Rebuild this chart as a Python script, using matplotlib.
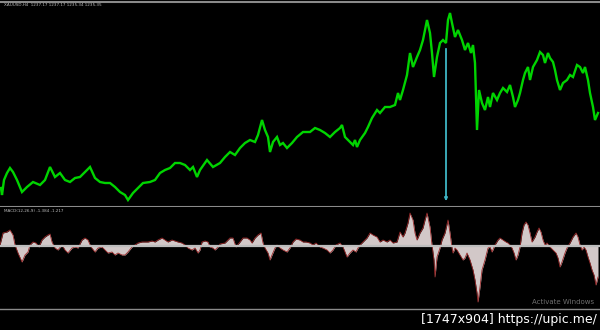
import matplotlib
matplotlib.use("Agg")
import matplotlib.pyplot as plt
import numpy as np

# price series (bar position, close)
price_bars = [1, 2, 4, 7, 10, 13, 17, 22, 27, 33, 40, 45, 50, 55, 60, 65, 70, 75, 80, 85,
              90, 95, 100, 105, 110, 115, 120, 125, 128, 133, 138, 143, 150, 155, 160, 165, 170, 175, 180, 185,
              190, 193, 197, 200, 207, 213, 220, 225, 230, 235, 240, 245, 250, 255, 258, 262, 265, 268, 270, 273,
              277, 280, 283, 287, 292, 297, 303, 310, 315, 320, 325, 330, 335, 340, 342, 345, 350, 353, 355, 357,
              360, 365, 368, 372, 377, 380, 385, 390, 395, 398, 400, 403, 407, 410, 413, 417, 420, 423, 427, 430,
              432, 434, 437, 440, 443, 446, 448, 450, 452, 455, 458, 462, 465, 468, 471, 473, 475, 476, 477, 479,
              482, 485, 488, 490, 493, 497, 500, 503, 507, 510, 513, 515, 518, 520, 523, 525, 528, 530, 533, 537,
              540, 543, 545, 548, 550, 553, 555, 557, 560, 563, 567, 570, 573, 577, 580, 583, 585, 588, 590, 593,
              595, 598]
price = [19, 12, 27, 34, 39, 35, 27, 15, 20, 25, 22, 27, 40, 30, 34, 27, 25, 29, 30, 35,
         40, 29, 25, 24, 24, 20, 15, 12, 7, 14, 19, 24, 25, 27, 34, 37, 39, 44, 44, 42,
         37, 40, 30, 37, 47, 40, 44, 50, 55, 52, 59, 64, 67, 65, 72, 87, 77, 70, 55, 65,
         70, 62, 64, 59, 64, 70, 75, 75, 79, 77, 74, 70, 75, 79, 82, 70, 65, 62, 67, 60,
         67, 74, 80, 89, 97, 94, 100, 100, 102, 114, 107, 117, 132, 154, 140, 150, 157, 167, 187, 174,
         154, 130, 150, 164, 167, 164, 187, 194, 184, 170, 177, 167, 157, 164, 154, 162, 144, 110, 77, 117,
         104, 97, 110, 100, 114, 107, 114, 119, 115, 122, 110, 100, 107, 114, 127, 134, 140, 127, 140, 147,
         155, 152, 144, 154, 149, 145, 137, 127, 117, 124, 127, 132, 130, 142, 140, 134, 140, 127, 114, 100,
         87, 94]

# oscillator histogram (bar position, value)
osc_bars = [0, 3, 7, 10, 13, 15, 18, 22, 25, 28, 30, 33, 36, 39, 42, 45, 48, 50, 52, 55,
            58, 62, 65, 68, 72, 75, 78, 82, 85, 88, 91, 95, 98, 102, 105, 108, 112, 115, 118, 122,
            125, 128, 132, 135, 138, 142, 145, 148, 152, 155, 158, 162, 165, 168, 172, 175, 178, 182, 185, 188,
            192, 195, 198, 200, 202, 205, 208, 210, 213, 215, 218, 220, 225, 228, 230, 233, 236, 240, 243, 247,
            250, 252, 255, 258, 261, 263, 265, 268, 270, 272, 275, 277, 280, 283, 287, 290, 293, 296, 300, 303,
            306, 310, 313, 316, 320, 323, 327, 330, 333, 336, 340, 343, 345, 347, 350, 353, 356, 358, 360, 363,
            367, 370, 373, 377, 380, 383, 387, 390, 393, 397, 400, 403, 405, 408, 410, 413, 415, 417, 420, 423,
            425, 427, 430, 432, 434, 435, 437, 440, 442, 445, 448, 450, 452, 453, 455, 457, 460, 463, 465, 467,
            470, 473, 475, 477, 478, 480, 482, 485, 488, 490, 492, 495, 498, 500, 503, 506, 508, 510, 512, 514,
            516, 518, 520, 522, 524, 526, 528, 530, 532, 535, 537, 539, 541, 543, 545, 547, 550, 553, 556, 558,
            560, 562, 565, 567, 570, 573, 576, 578, 580, 582, 584, 586, 588, 590, 592, 594, 596, 598]
osc = [1, 13, 14, 16, 11, 1, -7, -16, -9, -6, 1, 4, 3, -1, 6, 9, 11, 12, 4, -2,
       -4, 1, -4, -7, -2, -1, -2, 6, 8, 6, -1, -6, -2, -1, -4, -7, -6, -9, -7, -9,
       -9, -6, -1, 1, 3, 4, 4, 4, 5, 4, 6, 8, 6, 4, 6, 5, 4, 3, 1, -2,
       -4, -2, -7, -4, 4, 5, 4, -1, -2, -4, -1, 2, 3, 6, 8, 8, -1, 4, 8, 8,
       6, 3, 8, 11, 13, 3, -2, -7, -14, -9, -2, 1, -2, -4, -6, -2, 4, 7, 6, 4,
       4, 3, 1, 3, -1, -2, -4, -7, -4, 1, 3, -1, -6, -11, -7, -4, -6, -2, 1, 4,
       8, 13, 11, 9, 4, 6, 4, 6, 3, 4, 14, 9, 13, 23, 33, 26, 13, 6, 13, 18,
       26, 33, 19, 1, -14, -31, -11, -2, 6, 13, 26, 13, -2, -7, -2, -4, -9, -14, -12, -7,
       -14, -24, -34, -47, -56, -41, -24, -14, -2, -1, -6, 1, 6, 8, 6, 4, 3, 1, -2, -7,
       -14, -9, -1, 13, 21, 24, 21, 13, 4, 9, 14, 18, 14, 6, 1, 3, -1, -4, -7, -12,
       -21, -16, -7, -2, 3, 9, 13, 9, 1, -4, -1, -4, -11, -17, -24, -29, -39, -31]

signal_bar = 446
header_text = "XAUUSD,H4  1237.17 1237.17 1235.34 1235.35"
osc_text = "MACD(12,26,9) -1.384 -1.217"

W, H = 600, 330
fig = plt.figure(figsize=(6, 3.3), dpi=100, facecolor="black")

# main price window
ax = fig.add_axes([0, (H - 207) / H, 1, 205 / H], facecolor="black")
ax.plot(price_bars, price, color="#00d400", lw=1.7, solid_joinstyle="miter")
ax.set_xlim(0, 600)
ax.set_ylim(0, 205)

# vertical signal arrow, from just under the price down to the window edge
top = np.interp(signal_bar, price_bars, price) - 3
ax.annotate("", xy=(signal_bar, 3), xytext=(signal_bar, top),
            arrowprops=dict(arrowstyle="-|>", color="#3fb6c6", lw=1.3, mutation_scale=4))

# oscillator window
ax2 = fig.add_axes([0, (H - 309) / H, 1, 102 / H], facecolor="black")
ax2.fill_between(osc_bars, 0, osc, color="#d2c8c8", lw=0)
ax2.plot(osc_bars, osc, color="#9a2a2a", lw=0.6)
ax2.axhline(0, color="#bdbdbd", lw=1.6)
ax2.set_xlim(0, 600)
ax2.set_ylim(-63, 39)

for a in (ax, ax2):
    a.set_xticks([])
    a.set_yticks([])
    a.spines["left"].set_visible(False)
    a.spines["right"].set_visible(False)
    for s in ("top", "bottom"):
        a.spines[s].set_color("#8a8a8a")
        a.spines[s].set_linewidth(1.5)
ax2.spines["top"].set_visible(False)
ax2.spines["bottom"].set_linewidth(1.0)

fig.text(4 / W, (H - 5.5) / H, header_text, color="#bbbbbb", fontsize=3, va="center")
fig.text(4 / W, (H - 211) / H, osc_text, color="#bbbbbb", fontsize=3, va="center")
fig.text(594 / W, (H - 302) / H, "Activate Windows", color="#6e6e6e", fontsize=5,
         ha="right", va="center")
fig.text(597 / W, (H - 320) / H, "[1747x904] https://upic.me/", color="white",
         fontsize=9, ha="right", va="center")

fig.savefig("out.png", dpi=100, facecolor="black")
